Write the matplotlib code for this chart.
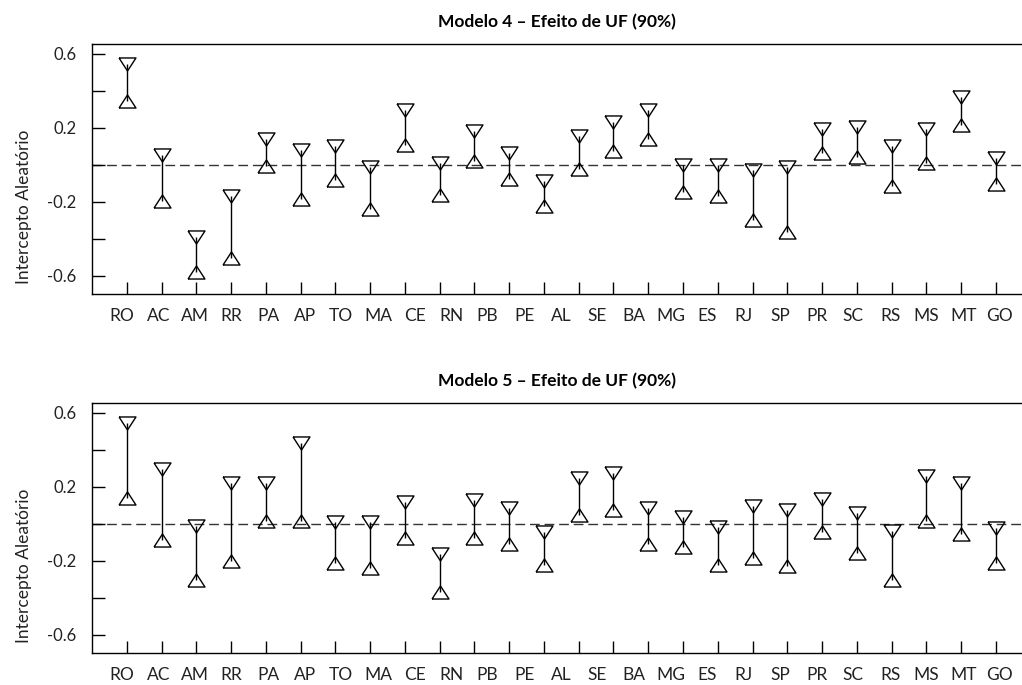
import numpy as np
import matplotlib
matplotlib.use("Agg")
import matplotlib.pyplot as plt

plt.rcParams["font.family"] = ["Lato", "DejaVu Sans"]

# ======= Data =======
ufs = ["RO", "AC", "AM", "RR", "PA", "AP", "TO", "MA", "CE", "RN", "PB", "PE", "AL",
       "SE", "BA", "MG", "ES", "RJ", "SP", "PR", "SC", "RS", "MS", "MT", "GO"]

# 26 intervals are drawn, 25 labels under them (as in the original)
m4_hi = [0.546, 0.052, -0.393, -0.169, 0.137, 0.081, 0.099, -0.013, 0.295, 0.007, 0.182, 0.065, -0.088,
         0.157, 0.231, 0.295, 0.000, -0.002, -0.031, -0.013, 0.193, 0.204, 0.103, 0.193, 0.366, 0.036]
m4_lo = [0.342, -0.196, -0.580, -0.505, -0.009, -0.187, -0.086, -0.243, 0.108, -0.166, 0.018, -0.076, -0.225,
         -0.022, 0.072, 0.137, -0.151, -0.169, -0.301, -0.366, 0.065, 0.041, -0.114, 0.007, 0.213, -0.106]

m5_hi = [0.547, 0.295, -0.011, 0.221, 0.221, 0.435, 0.009, 0.009, 0.116, -0.164, 0.131, 0.085, -0.042,
         0.247, 0.276, 0.085, 0.037, -0.018, 0.094, 0.076, 0.134, 0.057, -0.037, 0.256, 0.219, -0.020]
m5_lo = [0.142, -0.085, -0.306, -0.203, 0.018, 0.018, -0.212, -0.239, -0.079, -0.370, -0.079, -0.107, -0.223,
         0.046, 0.074, -0.109, -0.127, -0.221, -0.184, -0.230, -0.042, -0.157, -0.306, 0.017, -0.053, -0.214]

yticks = [-0.6, -0.4, -0.2, 0.0, 0.2, 0.4, 0.6]
ytick_labels = ["-0.6", "", "-0.2", "", "0.2", "", "0.6"]
# ==============================================

# flat-sided triangles (wider than tall)
tri_down = [(-1, 0.77), (1, 0.77), (0, -0.77), (-1, 0.77)]
tri_up = [(-1, -0.77), (1, -0.77), (0, 0.77), (-1, -0.77)]

fig = plt.figure(figsize=(10.22, 6.85), dpi=100)
panels = [
    ("Modelo 4 \u2013 Efeito de UF (90%)", m4_hi, m4_lo, [0.090, 0.5708, 0.910, 0.365]),
    ("Modelo 5 \u2013 Efeito de UF (90%)", m5_hi, m5_lo, [0.090, 0.0463, 0.910, 0.365]),
]

for title, hi, lo, rect in panels:
    ax = fig.add_axes(rect)
    x = np.arange(len(hi))
    ax.axhline(0, color="#333333", lw=1.0, linestyle=(0, (7, 3.5)), zorder=1)
    ax.vlines(x, lo, hi, color="black", lw=1.0, zorder=2)
    ax.plot(x, hi, linestyle="none", marker=tri_down, ms=12.2,
            mfc="none", mec="black", mew=1.0, zorder=3)
    ax.plot(x, lo, linestyle="none", marker=tri_up, ms=12.2,
            mfc="none", mec="black", mew=1.0, zorder=3)

    ax.set_xlim(-1.0, 25.75)
    ax.set_ylim(-0.70, 0.652)

    # interval ticks (no labels) + labels on their own evenly spread positions
    ax.set_xticks(x)
    ax.set_xticklabels([])
    ax.set_xticks(np.linspace(-0.14, 25.11, len(ufs)), ufs, minor=True)
    ax.tick_params(axis="x", which="major", direction="in", length=9, width=1.0)
    ax.tick_params(axis="x", which="minor", length=0, pad=10, labelsize=12.5,
                   labelcolor="#222222")

    ax.set_yticks(yticks, ytick_labels)
    ax.tick_params(axis="y", direction="in", length=9.5, width=1.0, pad=11,
                   labelsize=12, labelcolor="#222222")

    for side in ["left", "top", "bottom"]:
        ax.spines[side].set_linewidth(1.0)
    ax.spines["right"].set_visible(False)

    ax.set_title(title, fontsize=12.5, fontweight="bold", pad=12)
    ax.set_ylabel("Intercepto Aleat\u00f3rio", fontsize=12.5, color="#222222")
    ax.yaxis.set_label_coords(-0.065, 0.35)

fig.savefig("out.png", dpi=100)
